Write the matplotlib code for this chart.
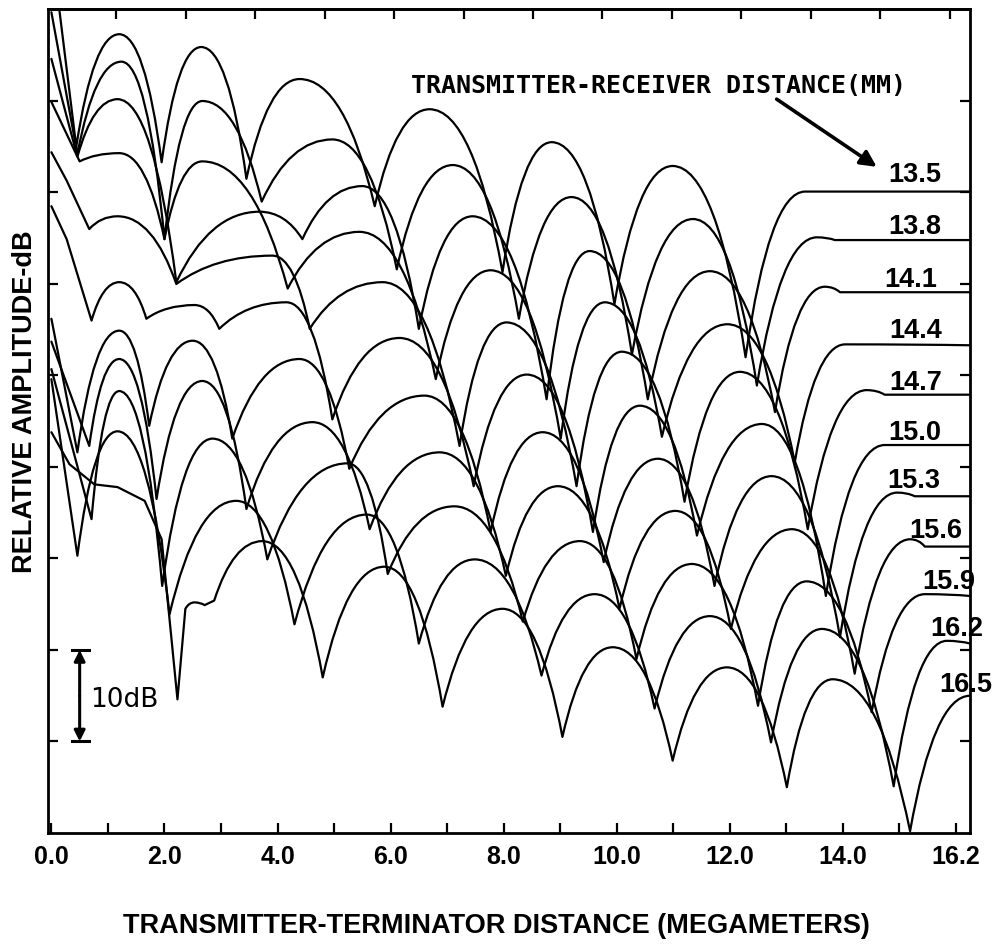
import numpy as np
import matplotlib.pyplot as plt
from matplotlib.path import Path
from matplotlib.patches import PathPatch

plt.rcParams['font.family'] = ['Liberation Sans', 'DejaVu Sans']

# transmitter-receiver distance of each trace (Mm)
rx_dist = ['13.5', '13.8', '14.1', '14.4', '14.7', '15.0',
           '15.3', '15.6', '15.9', '16.2', '16.5']

# transmitter-terminator distance (Mm) and relative amplitude (dB) per trace
x_135 = [0.14, 0.44, 1.20, 1.95, 2.65, 3.45, 4.39, 5.72, 6.69, 7.98, 8.85, 9.96,
         10.99, 12.28, 13.33, 16.25]
y_135 = [90.0, 75.0, 87.3, 73.3, 85.9, 71.5, 82.4, 68.5, 79.1, 61.3, 75.5, 57.8,
         72.9, 52.0, 70.1, 70.1]

x_138 = [0.0, 0.46, 1.24, 2.00, 2.67, 3.72, 4.97, 6.11, 7.10, 8.27, 9.20, 10.27,
         11.35, 12.48, 13.54, 13.86, 16.25]
y_138 = [89.7, 74.2, 84.3, 64.9, 80.0, 69.0, 75.8, 61.6, 73.0, 56.2, 69.5, 52.3,
         67.1, 48.9, 65.1, 64.8, 64.8]

x_141 = [0.0, 0.46, 1.17, 2.21, 3.68, 4.44, 5.50, 6.50, 7.45, 8.76, 9.52, 10.55,
         11.65, 12.80, 13.68, 13.95, 16.25]
y_141 = [84.6, 73.9, 80.2, 60.2, 67.9, 64.9, 70.7, 55.1, 67.4, 47.4, 63.6, 47.4,
         61.4, 46.0, 59.7, 59.1, 59.1]

x_144 = [0.0, 0.50, 1.20, 2.00, 2.67, 4.18, 5.45, 6.80, 7.77, 9.01, 9.79, 10.80,
         11.96, 13.15, 14.04, 16.25]
y_144 = [79.9, 73.4, 74.3, 64.9, 73.4, 59.5, 65.7, 49.6, 61.5, 43.1, 58.0, 43.3,
         55.6, 40.5, 53.4, 53.3]

x_147 = [0.0, 0.27, 0.67, 1.17, 2.21, 3.91, 4.57, 5.86, 7.22, 8.05, 9.29, 10.09,
         11.20, 12.18, 13.38, 14.42, 14.74, 16.25]
y_147 = [74.4, 71.3, 66.0, 67.4, 60.0, 63.1, 55.1, 60.2, 42.3, 55.8, 37.9, 52.6,
         36.2, 50.4, 33.2, 48.4, 47.9, 47.9]

x_150 = [0.0, 0.27, 0.71, 1.20, 1.68, 2.53, 2.97, 4.16, 4.97, 6.16, 7.47, 8.41,
         9.58, 10.41, 11.42, 12.57, 13.70, 14.74, 16.25]
y_150 = [68.5, 64.9, 56.0, 60.2, 56.2, 57.7, 55.1, 58.0, 45.2, 54.1, 37.9, 50.1,
         32.9, 46.7, 32.5, 44.7, 25.9, 42.4, 42.4]

x_153 = [0.0, 0.46, 1.20, 1.73, 2.50, 3.20, 4.39, 5.27, 6.60, 7.77, 8.69, 9.77,
         10.73, 11.73, 12.74, 13.95, 14.96, 15.27, 16.25]
y_153 = [56.2, 41.6, 54.9, 44.5, 53.8, 43.1, 51.8, 39.8, 47.8, 32.9, 43.8, 29.6,
         40.9, 27.0, 39.0, 21.4, 37.2, 36.8, 36.8]

x_156 = [0.0, 0.67, 1.20, 1.86, 2.67, 3.45, 4.62, 5.63, 6.87, 8.04, 8.96, 10.05,
         11.04, 12.02, 13.10, 14.21, 15.19, 15.45, 16.25]
y_156 = [53.7, 42.3, 51.8, 36.5, 49.4, 35.4, 44.9, 33.2, 41.6, 28.1, 37.9, 24.5,
         35.2, 22.3, 33.2, 17.4, 32.1, 31.3, 31.3]

x_159 = [0.0, 0.71, 1.20, 1.96, 2.85, 3.82, 5.24, 5.95, 7.13, 8.34, 9.35, 10.35,
         11.33, 12.50, 13.36, 14.51, 15.45, 16.25]
y_159 = [50.7, 34.3, 48.3, 27.0, 43.1, 29.9, 40.4, 28.3, 35.7, 23.1, 31.9, 19.0,
         29.4, 13.9, 27.5, 13.2, 26.1, 25.9]

x_162 = [0.0, 0.46, 1.17, 2.09, 3.27, 4.30, 5.58, 6.50, 7.49, 8.67, 9.61, 10.67,
         11.65, 12.73, 13.63, 14.90, 15.84, 16.25]
y_162 = [49.6, 30.3, 43.9, 23.9, 36.3, 22.8, 34.8, 20.7, 29.9, 17.2, 26.1, 13.6,
         23.7, 9.9, 22.3, 5.1, 21.0, 20.7]

x_165 = [0.0, 0.32, 0.76, 1.17, 1.65, 1.95, 2.23, 2.37, 2.53, 2.71, 2.88, 3.73,
         4.80, 5.89, 6.92, 7.98, 9.04, 9.93, 10.99, 11.95, 13.01, 13.82, 15.19,
         16.25]
y_165 = [43.8, 40.3, 38.1, 37.8, 36.3, 32.1, 14.6, 24.5, 25.2, 24.9, 25.4, 31.9,
         17.0, 29.1, 13.8, 24.5, 10.5, 20.3, 7.9, 18.1, 5.0, 16.8, 0.2,
         15.0]

traces = [(x_135, y_135), (x_138, y_138), (x_141, y_141), (x_144, y_144),
          (x_147, y_147), (x_150, y_150), (x_153, y_153), (x_156, y_156),
          (x_159, y_159), (x_162, y_162), (x_165, y_165)]

# where the receiver-distance numbers sit (right edge, mid height)
label_x = [15.75, 15.75, 15.66, 15.75, 15.75, 15.75, 15.72, 16.12, 16.34, 16.48, 16.65]
label_y = [72.3, 66.7, 60.9, 55.3, 49.6, 44.2, 38.9, 33.4, 27.9, 22.7, 16.6]


def trace_path(xs, ys):
    """Straight runs, rounded maxima, sharp nulls."""
    n = len(xs)
    peak = [0 < i < n - 1 and ys[i] >= max(ys[i - 1], ys[i + 1])
            and ys[i] > min(ys[i - 1], ys[i + 1]) for i in range(n)]
    # a trace still climbing at the right edge levels off there
    peak[-1] = ys[-1] > ys[-2]
    verts, codes = [(xs[0], ys[0])], [Path.MOVETO]
    for i in range(1, n):
        x0, y0, x1, y1 = xs[i - 1], ys[i - 1], xs[i], ys[i]
        if peak[i]:
            verts += [(x0 + 0.4 * (x1 - x0), y1), (x1, y1)]
            codes += [Path.CURVE3, Path.CURVE3]
        elif peak[i - 1]:
            verts += [(x0 + 0.6 * (x1 - x0), y0), (x1, y1)]
            codes += [Path.CURVE3, Path.CURVE3]
        else:
            verts.append((x1, y1))
            codes.append(Path.LINETO)
    return Path(verts, codes)


fig = plt.figure(figsize=(10, 9.45), dpi=100)
ax = fig.add_axes([0.048, 0.1175, 0.922, 0.8714])

for xs, ys in traces:
    ax.add_patch(PathPatch(trace_path(xs, ys), fill=False, edgecolor='black',
                           lw=1.6, joinstyle='round', capstyle='round'))

ax.set_xlim(-0.06, 16.25)
ax.set_ylim(0, 90)

for s in ax.spines.values():
    s.set_linewidth(2.0)

ax.set_xticks(np.arange(0, 17, 2))
ax.set_xticklabels(['0.0', '2.0', '4.0', '6.0', '8.0', '10.0', '12.0', '14.0', '16.2'],
                   fontsize=18, fontweight='bold')
ax.set_xticks(np.arange(1, 16, 2), minor=True)
ax.set_yticks(np.arange(10, 90, 10))
ax.set_yticklabels([])
ax.tick_params(axis='both', which='both', direction='in', length=7.5, width=1.6)
ax.tick_params(axis='x', which='major', pad=8)
ax.tick_params(axis='y', left=True, right=True)

top = ax.secondary_xaxis('top')
top.set_xticks(np.linspace(1.15, 15.89, 13))
top.set_xticklabels([])
top.tick_params(direction='in', length=7.5, width=1.6)
top.spines['top'].set_linewidth(2.0)

for name, lx, ly in zip(rx_dist, label_x, label_y):
    ax.text(lx, ly, name, ha='right', va='center_baseline', fontsize=19.5,
            fontweight='bold', clip_on=False)

ax.text(6.37, 82.0, 'TRANSMITTER-RECEIVER DISTANCE(MM)', family='DejaVu Sans Mono',
        fontweight='bold', fontsize=18, ha='left', va='center_baseline')
ax.annotate('', xy=(14.60, 72.8), xytext=(12.83, 80.2),
            arrowprops=dict(arrowstyle='-|>', color='black', lw=2.6,
                            mutation_scale=24, shrinkA=0, shrinkB=0))

# 10 dB scale bar
bar_x, bar_lo, bar_hi = 0.50, 10, 20
ax.plot([bar_x - 0.13, bar_x + 0.17], [bar_hi, bar_hi], color='black', lw=2.2)
ax.plot([bar_x - 0.13, bar_x + 0.17], [bar_lo, bar_lo], color='black', lw=2.2)
for end in (bar_hi, bar_lo):
    ax.annotate('', xy=(bar_x, end), xytext=(bar_x, (bar_lo + bar_hi) / 2),
                arrowprops=dict(arrowstyle='-|>', color='black', lw=2.2,
                                mutation_scale=16, shrinkA=0, shrinkB=0))
ax.text(0.68, 15.0, '10dB', family='DejaVu Sans', fontsize=19,
        ha='left', va='center_baseline')

fig.text(0.025, 0.5746, 'RELATIVE AMPLITUDE-dB', rotation=90, fontsize=19.5,
         fontweight='bold', ha='center', va='center')
fig.text(0.496, 0.020, 'TRANSMITTER-TERMINATOR DISTANCE (MEGAMETERS)', fontsize=19.5,
         fontweight='bold', ha='center', va='center')

fig.savefig('out.png', dpi=100)
